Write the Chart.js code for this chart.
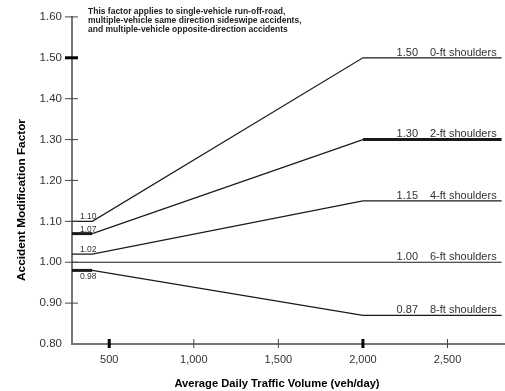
<!DOCTYPE html>
<html>
<head>
<meta charset="utf-8">
<script src="https://cdn.jsdelivr.net/npm/chart.js@4.4.1/dist/chart.umd.min.js"></script>
<style>
  html, body { margin: 0; padding: 0; background: #fff; }
  #wrap { width: 505px; height: 391px; position: relative; }
</style>
</head>
<body>
<div id="wrap"><canvas id="amfChart"></canvas></div>
<script>
// ADT breakpoints (veh/day) and AMF values per shoulder width
const adtPoints = [280, 400, 2000, 2820];
const shoulderLabels = ["0-ft shoulders", "2-ft shoulders", "4-ft shoulders", "6-ft shoulders", "8-ft shoulders"];
const amf0ft = [1.10, 1.10, 1.50, 1.50];
const amf2ft = [1.07, 1.07, 1.30, 1.30];
const amf4ft = [1.02, 1.02, 1.15, 1.15];
const amf6ft = [1.00, 1.00, 1.00, 1.00];
const amf8ft = [0.98, 0.98, 0.87, 0.87];
const xTicks = [500, 1000, 1500, 2000, 2500];
const yTicks = [0.80, 0.90, 1.00, 1.10, 1.20, 1.30, 1.40, 1.50, 1.60];

const FONT = "'Liberation Sans', Arial, sans-serif";

function toPoints(ys) {
    return ys.map((y, i) => ({ x: adtPoints[i], y: y }));
}

// thick segments: 2-ft flat parts, 0.98 left flat part
function widthFor(name) {
    return function (ctx) {
        const i = ctx.p0DataIndex;
        if (name === "2ft" && (i === 0 || i === 2)) return 3;
        if (name === "8ft" && i === 0) return 3;
        return 1.2;
    };
}

const seriesList = [
    { key: "0ft", data: amf0ft },
    { key: "2ft", data: amf2ft },
    { key: "4ft", data: amf4ft },
    { key: "6ft", data: amf6ft },
    { key: "8ft", data: amf8ft }
];

const datasets = seriesList.map((s, k) => ({
    label: shoulderLabels[k],
    data: toPoints(s.data),
    borderColor: "#1a1a1a",
    borderWidth: 1.2,
    pointRadius: 0,
    tension: 0,
    fill: false,
    segment: { borderWidth: widthFor(s.key) }
}));

// custom ticks, labels and titles
const decorPlugin = {
    id: "decor",
    afterDraw(chart) {
        const c = chart.ctx;
        const xs = chart.scales.x, ys = chart.scales.y;
        const area = chart.chartArea;
        c.save();

        // y ticks crossing the axis
        yTicks.forEach(v => {
            if (v === 0.80) return;
            const py = ys.getPixelForValue(v);
            const thick = Math.abs(v - 1.50) < 1e-6;
            c.strokeStyle = thick ? "#000" : "#444";
            c.lineWidth = thick ? 3 : 1;
            c.beginPath();
            c.moveTo(area.left - 7, py);
            c.lineTo(area.left + 6, py);
            c.stroke();
        });

        // x ticks crossing the axis
        xTicks.forEach(v => {
            const px = xs.getPixelForValue(v);
            const thick = v === 500 || v === 2000;
            c.strokeStyle = thick ? "#000" : "#444";
            c.lineWidth = thick ? 3 : 1;
            c.beginPath();
            c.moveTo(px, area.bottom - 5);
            c.lineTo(px, area.bottom + 4);
            c.stroke();
        });

        // left start values
        c.fillStyle = "#333";
        c.font = "8.5px " + FONT;
        c.textAlign = "left";
        seriesList.forEach(s => {
            if (s.key === "6ft") return;
            const v = s.data[0];
            const py = ys.getPixelForValue(v);
            const px = xs.getPixelForValue(adtPoints[0]) + 8;
            if (s.key === "8ft") {
                c.textBaseline = "top";
                c.fillText(v.toFixed(2), px, py + 2);
            } else {
                c.textBaseline = "alphabetic";
                c.fillText(v.toFixed(2), px, py - 2);
            }
        });

        // right end labels
        c.font = "11px " + FONT;
        c.textBaseline = "alphabetic";
        seriesList.forEach((s, k) => {
            const v = s.data[3];
            const off = s.key === "2ft" ? 3 : 2;
            const py = ys.getPixelForValue(v) - off;
            c.textAlign = "right";
            c.fillText(v.toFixed(2), 418, py);
            c.textAlign = "left";
            c.fillText(shoulderLabels[k], 430, py);
        });

        // note text
        c.fillStyle = "#222";
        c.font = "bold 8.5px " + FONT;
        c.textAlign = "left";
        c.textBaseline = "middle";
        c.fillText("This factor applies to single-vehicle run-off-road,", 88, 12);
        c.fillText("multiple-vehicle same direction sideswipe accidents,", 88, 21);
        c.fillText("and multiple-vehicle opposite-direction accidents", 88, 30);

        // axis titles
        c.fillStyle = "#000";
        c.font = "bold 11.2px " + FONT;
        c.textAlign = "center";
        c.fillText("Average Daily Traffic Volume (veh/day)", 277, 384);
        c.font = "bold 11.8px " + FONT;
        c.translate(22, 200);
        c.rotate(-Math.PI / 2);
        c.fillText("Accident Modification Factor", 0, 0);

        c.restore();
    }
};

const ctx = document.getElementById("amfChart").getContext("2d");
new Chart(ctx, {
    type: "line",
    data: { datasets: datasets },
    options: {
        responsive: true,
        maintainAspectRatio: false,
        animation: false,
        layout: { padding: { top: 11, right: 0, left: 0, bottom: 0 } },
        plugins: {
            legend: { display: false },
            tooltip: { enabled: false }
        },
        scales: {
            x: {
                type: "linear",
                min: 280,
                max: 2840,
                afterBuildTicks: (scale) => { scale.ticks = xTicks.map(v => ({ value: v })); },
                afterFit: (scale) => { scale.height = 47; },
                grid: { drawOnChartArea: false, drawTicks: false },
                border: { color: "#777", width: 2 },
                ticks: {
                    padding: 9,
                    maxRotation: 0,
                    color: "#333",
                    font: { family: FONT, size: 11 },
                    callback: (v) => v.toLocaleString("en-US")
                }
            },
            y: {
                type: "linear",
                min: 0.80,
                max: 1.60,
                afterBuildTicks: (scale) => { scale.ticks = yTicks.map(v => ({ value: v })); },
                afterFit: (scale) => { scale.width = 72; },
                grid: { drawOnChartArea: false, drawTicks: false },
                border: { color: "#777", width: 2 },
                ticks: {
                    padding: 10,
                    color: "#333",
                    font: { family: FONT, size: 11.5 },
                    callback: (v) => Number(v).toFixed(2)
                }
            }
        }
    },
    plugins: [decorPlugin]
});
</script>
</body>
</html>
